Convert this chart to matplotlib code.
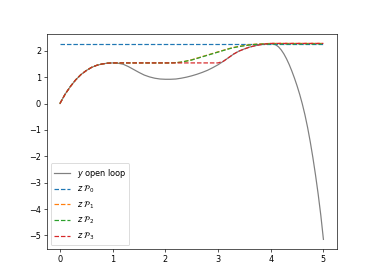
import matplotlib
matplotlib.use("Agg")
import matplotlib.pyplot as plt

t = [0.0, 0.1, 0.2, 0.3, 0.4, 0.5, 0.6, 0.7, 0.8, 0.9,
     1.0, 1.1, 1.2, 1.3, 1.4, 1.5, 1.6, 1.7, 1.8, 1.9,
     2.0, 2.1, 2.2, 2.3, 2.4, 2.5, 2.6, 2.7, 2.8, 2.9,
     3.0, 3.1, 3.2, 3.3, 3.4, 3.5, 3.6, 3.7, 3.8, 3.9,
     4.0, 4.05, 4.1, 4.15, 4.2, 4.25, 4.3, 4.35, 4.4, 4.45,
     4.5, 4.55, 4.6, 4.65, 4.7, 4.75, 4.8, 4.85, 4.9, 4.95, 5.0]

y_open = [0.00, 0.36, 0.65, 0.90, 1.10, 1.25, 1.37, 1.45, 1.50, 1.53,
          1.54, 1.53, 1.49, 1.40, 1.29, 1.18, 1.08, 1.01, 0.96, 0.93,
          0.92, 0.92, 0.93, 0.96, 1.00, 1.05, 1.11, 1.18, 1.26, 1.36,
          1.47, 1.60, 1.74, 1.88, 1.99, 2.07, 2.14, 2.19, 2.23, 2.26,
          2.27, 2.26, 2.22, 2.145, 2.03, 1.88, 1.695, 1.48, 1.235, 0.965,
          0.67, 0.345, -0.02, -0.435, -0.91, -1.45, -2.05, -2.71, -3.43, -4.23, -5.15]

z_p0 = [2.255, 2.255, 2.255, 2.255, 2.255, 2.255, 2.255, 2.255, 2.255, 2.255,
        2.255, 2.255, 2.255, 2.255, 2.255, 2.255, 2.255, 2.255, 2.255, 2.255,
        2.255, 2.255, 2.255, 2.255, 2.255, 2.255, 2.255, 2.255, 2.255, 2.255,
        2.255, 2.255, 2.255, 2.255, 2.255, 2.255, 2.255, 2.255, 2.255, 2.255,
        2.255, 2.255, 2.255, 2.255, 2.255, 2.255, 2.255, 2.255, 2.255, 2.255,
        2.255, 2.255, 2.255, 2.255, 2.255, 2.255, 2.255, 2.255, 2.255, 2.255, 2.255]

z_p1 = [0.00, 0.36, 0.65, 0.90, 1.10, 1.25, 1.37, 1.45, 1.50, 1.53,
        1.54, 1.54, 1.54, 1.54, 1.54, 1.54, 1.54, 1.54, 1.54, 1.54,
        1.54, 1.54, 1.55, 1.57, 1.61, 1.66, 1.72, 1.78, 1.84, 1.90,
        1.96, 2.02, 2.08, 2.13, 2.17, 2.20, 2.23, 2.25, 2.26, 2.27,
        2.28, 2.28, 2.28, 2.28, 2.28, 2.28, 2.28, 2.28, 2.28, 2.28,
        2.28, 2.28, 2.28, 2.28, 2.28, 2.28, 2.28, 2.28, 2.28, 2.28, 2.28]

z_p2 = [0.00, 0.36, 0.65, 0.90, 1.10, 1.25, 1.37, 1.45, 1.50, 1.53,
        1.54, 1.54, 1.54, 1.54, 1.54, 1.54, 1.54, 1.54, 1.54, 1.54,
        1.54, 1.54, 1.55, 1.57, 1.61, 1.65, 1.71, 1.77, 1.83, 1.89,
        1.95, 2.01, 2.07, 2.12, 2.16, 2.19, 2.22, 2.24, 2.25, 2.26,
        2.26, 2.26, 2.26, 2.26, 2.26, 2.26, 2.26, 2.26, 2.26, 2.26,
        2.26, 2.26, 2.26, 2.26, 2.26, 2.26, 2.26, 2.26, 2.26, 2.26, 2.26]

z_p3 = [0.00, 0.36, 0.65, 0.90, 1.10, 1.25, 1.37, 1.45, 1.50, 1.53,
        1.54, 1.54, 1.54, 1.54, 1.54, 1.54, 1.54, 1.54, 1.54, 1.54,
        1.54, 1.54, 1.54, 1.54, 1.54, 1.54, 1.54, 1.54, 1.54, 1.54,
        1.54, 1.60, 1.74, 1.88, 1.99, 2.07, 2.14, 2.19, 2.23, 2.26,
        2.28, 2.28, 2.28, 2.28, 2.28, 2.28, 2.28, 2.28, 2.28, 2.28,
        2.28, 2.28, 2.28, 2.28, 2.28, 2.28, 2.28, 2.28, 2.28, 2.28, 2.28]

labels = [r'$y$ open loop', r'$z\ \mathcal{P}_0$', r'$z\ \mathcal{P}_1$',
          r'$z\ \mathcal{P}_2$', r'$z\ \mathcal{P}_3$']

dpi = 58.44
fig, ax = plt.subplots(figsize=(374 / dpi, 280 / dpi), dpi=dpi)
ax.plot(t, y_open, color='gray', label=labels[0])
ax.plot(t, z_p0, '--', color='C0', label=labels[1])
ax.plot(t, z_p1, '--', color='C1', label=labels[2])
ax.plot(t, z_p2, '--', color='C2', label=labels[3])
ax.plot(t, z_p3, '--', color='C3', label=labels[4])
ax.legend(loc='lower left')
fig.savefig('out.png', dpi=dpi)
